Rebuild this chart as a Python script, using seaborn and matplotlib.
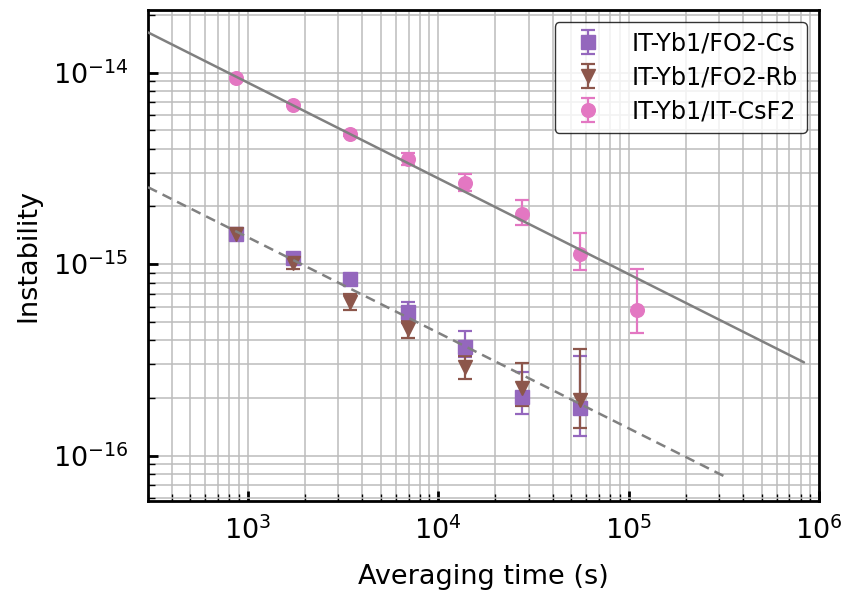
import numpy as np
import matplotlib
matplotlib.use("Agg")
import matplotlib.pyplot as plt
from matplotlib.ticker import NullFormatter
import seaborn as sns

# ---- data ----
tau = [864, 1728, 3456, 6912, 13824, 27648, 55296, 110592]

cs_val = [1.43e-15, 1.08e-15, 8.37e-16, 5.60e-16, 3.71e-16, 2.03e-16, 1.77e-16]
cs_low = [1.40e-15, 1.05e-15, 8.02e-16, 4.90e-16, 3.27e-16, 1.65e-16, 1.27e-16]
cs_high = [1.46e-15, 1.11e-15, 8.72e-16, 6.37e-16, 4.49e-16, 2.73e-16, 3.32e-16]

rb_val = [1.44e-15, 1.015e-15, 6.34e-16, 4.58e-16, 2.92e-16, 2.25e-16, 1.95e-16]
rb_low = [1.41e-15, 9.40e-16, 5.75e-16, 4.11e-16, 2.52e-16, 1.82e-16, 1.39e-16]
rb_high = [1.47e-15, 1.09e-15, 6.95e-16, 5.06e-16, 3.32e-16, 3.04e-16, 3.62e-16]

csf2_val = [9.35e-15, 6.78e-15, 4.79e-15, 3.54e-15, 2.655e-15, 1.83e-15, 1.127e-15, 5.79e-16]
csf2_low = [9.20e-15, 6.65e-15, 4.65e-15, 3.30e-15, 2.41e-15, 1.60e-15, 9.34e-16, 4.38e-16]
csf2_high = [9.50e-15, 6.91e-15, 4.93e-15, 3.80e-15, 2.95e-15, 2.16e-15, 1.455e-15, 9.48e-16]

# white-noise guide lines (end points)
fit_csf2_tau = [300, 8.34e5]
fit_csf2_val = [1.62e-14, 3.07e-16]
fit_fo2_tau = [300, 3.27e5]
fit_fo2_val = [2.52e-15, 7.7e-17]

labels = ["IT-Yb1/FO2-Cs", "IT-Yb1/FO2-Rb", "IT-Yb1/IT-CsF2"]

# ---- style ----
sns.set_theme(style="white")
plt.rcParams["font.family"] = ["DejaVu Sans"]
plt.rcParams["mathtext.fontset"] = "dejavusans"
plt.rcParams["text.color"] = "black"
plt.rcParams["axes.labelcolor"] = "black"

fig = plt.figure(figsize=(8.42, 5.90), dpi=100)
ax = fig.add_axes([148 / 842, 1 - 501 / 590, (819 - 148) / 842, (501 - 10) / 590])
ax.set_xscale("log")
ax.set_yscale("log")

purple = "#9467bd"
brown = "#8c564b"
pink = "#e377c2"

series = [
    (cs_val, cs_low, cs_high, "s", purple, labels[0], tau[:7]),
    (rb_val, rb_low, rb_high, "v", brown, labels[1], tau[:7]),
    (csf2_val, csf2_low, csf2_high, "o", pink, labels[2], tau),
]
for val, low, high, mk, col, lab, t in series:
    v = np.array(val)
    yerr = [v - np.array(low), np.array(high) - v]
    ax.errorbar(t, v, yerr=yerr, fmt=mk, color=col, ms=9.8, capsize=5,
                elinewidth=1.6, capthick=1.6, label=lab, zorder=3)

sns.lineplot(x=fit_csf2_tau, y=fit_csf2_val, ax=ax, color="#808080", lw=1.8,
             zorder=4, legend=False)
sns.lineplot(x=fit_fo2_tau, y=fit_fo2_val, ax=ax, color="#808080", lw=1.8,
             linestyle=(0, (4, 2.5)), zorder=4, legend=False)

ax.set_xlim(300, 1e6)
ax.set_ylim(5.8e-17, 2.12e-14)
ax.xaxis.set_minor_formatter(NullFormatter())
ax.yaxis.set_minor_formatter(NullFormatter())

ax.grid(True, which="both", color="#bcbcbc", lw=1.1, zorder=0)
ax.set_axisbelow(True)

for sp in ax.spines.values():
    sp.set_linewidth(2.0)
    sp.set_color("black")
    sp.set_visible(True)

ax.tick_params(which="both", direction="in", left=True, bottom=True,
               top=False, right=False, colors="black", labelsize=19.5)
ax.tick_params(which="major", length=7, width=2.0)
ax.tick_params(which="minor", length=5, width=1.0)
ax.tick_params(axis="x", which="major", pad=11)
ax.tick_params(axis="y", which="major", pad=14)

ax.set_xlabel("Averaging time (s)", fontsize=19.5, labelpad=14)
ax.set_ylabel("Instability", fontsize=19.5, labelpad=8)

leg = ax.legend(loc="upper right", fontsize=17.2, frameon=True, fancybox=True,
                edgecolor="black", framealpha=0.8, labelspacing=0.42,
                handlelength=2.0, borderaxespad=0.5)
leg.get_frame().set_linewidth(1.0)
for t in leg.get_texts():
    t.set_color("black")

fig.savefig("out.png", dpi=100)
